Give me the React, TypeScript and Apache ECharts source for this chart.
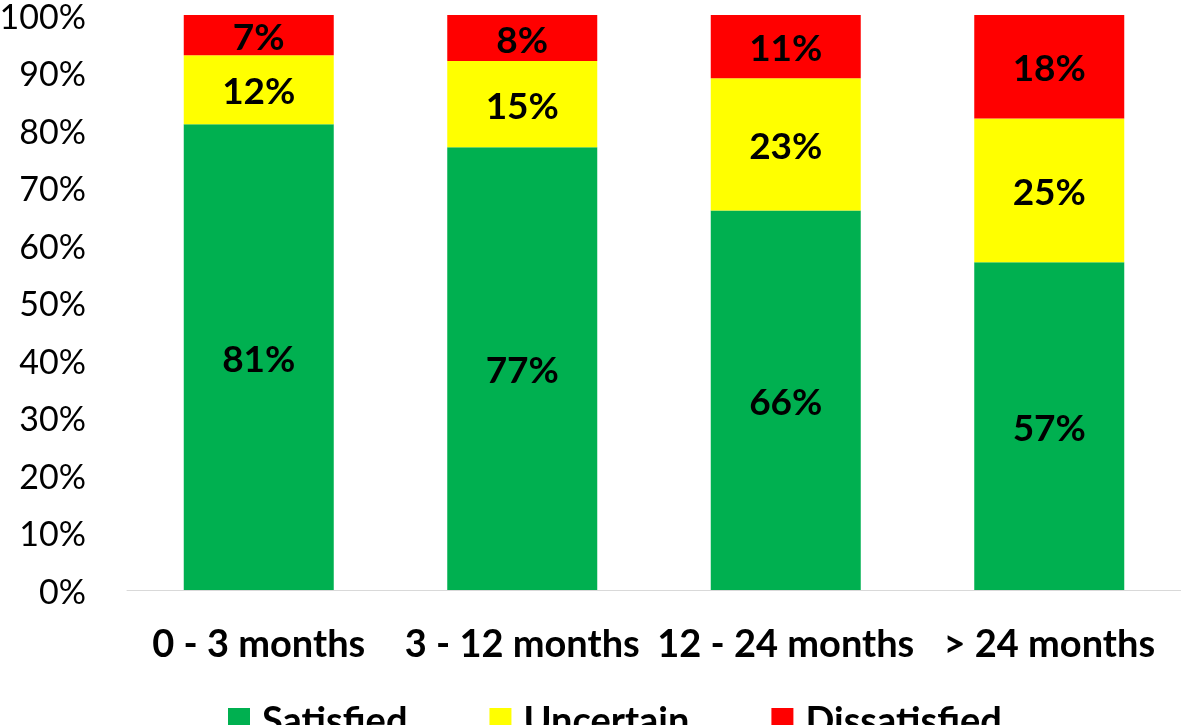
import React, { useEffect, useRef } from "react";
import * as echarts from "echarts";

const categories = ["0 - 3 months", "3 - 12 months", "12 - 24 months", "> 24 months"];
const satisfied = [81, 77, 66, 57];
const uncertain = [12, 15, 23, 25];
const dissatisfied = [7, 8, 11, 18];
const seriesNames = ["Satisfied", "Uncertain", "Dissatisfied"];
const colors = ["#00B050", "#FFFF00", "#FF0000"];

const FONT = "Lato";

export default function App() {
  const ref = useRef<HTMLDivElement>(null);
  useEffect(() => {
    if (!ref.current) return;
    document.body.style.margin = "0";
    document.body.style.overflow = "hidden";
    const chart = echarts.init(ref.current, null, { renderer: "svg" });
    const label = {
      show: true,
      position: "inside",
      formatter: (p: any) => p.value + "%",
      color: "#000",
      fontFamily: FONT,
      fontWeight: "bold",
      fontSize: 37,
    };
    const datas = [satisfied, uncertain, dissatisfied];
    chart.setOption({
      animation: false,
      grid: {
        left: 127,
        right: 0,
        top: 15,
        bottom: 135,
        containLabel: false,
        outerBoundsMode: "none",
      },
      legend: {
        data: seriesNames,
        top: 700,
        left: 228,
        itemWidth: 22,
        itemHeight: 22,
        itemGap: 82,
        padding: 0,
        icon: "rect",
        textStyle: {
          fontFamily: FONT,
          fontWeight: "bold",
          fontSize: 38,
          color: "#000",
          padding: [0, 0, 0, 7],
        },
      },
      xAxis: {
        type: "category",
        data: categories,
        axisLine: { lineStyle: { color: "#D9D9D9", width: 1 } },
        axisTick: { show: false },
        axisLabel: {
          fontFamily: FONT,
          fontWeight: "bold",
          fontSize: 38,
          color: "#000",
          margin: 33,
          interval: 0,
        },
      },
      yAxis: {
        type: "value",
        min: 0,
        max: 100,
        interval: 10,
        splitLine: { show: false },
        axisLine: { show: false },
        axisTick: { show: false },
        axisLabel: {
          formatter: (v: number) => v + "%",
          fontFamily: FONT,
          fontSize: 34,
          color: "#000",
          margin: 41,
        },
      },
      series: seriesNames.map((name, i) => ({
        name,
        type: "bar",
        stack: "total",
        data: datas[i],
        barWidth: 150,
        itemStyle: { color: colors[i] },
        label,
      })),
    });
    return () => chart.dispose();
  }, []);
  return (
    <div
      ref={ref}
      style={{ width: 1181, height: 725, position: "fixed", left: 0, top: 0, overflow: "hidden" }}
    />
  );
}
